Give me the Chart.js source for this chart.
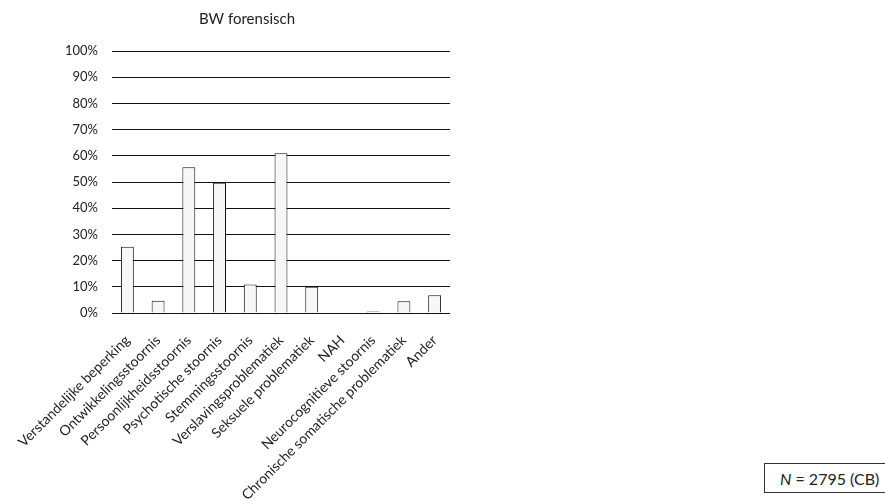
<!DOCTYPE html>
<html>
<head>
<meta charset="utf-8">
<script src="https://cdn.jsdelivr.net/npm/chart.js@4/dist/chart.umd.min.js"></script>
<style>
  body { margin: 0; background: #fff; width: 885px; height: 501px; position: relative; overflow: hidden; }
  #wrap { position: absolute; left: 0; top: 0; width: 494px; height: 501px; }
  #nbox { position: absolute; left: 764px; top: 463px; width: 130px; height: 30px; border: 1px solid #333;
          font-family: Lato, sans-serif; font-size: 16px; color: #222; line-height: 29px; padding-left: 15px; box-sizing: border-box; }
</style>
</head>
<body>
<div id="wrap"><canvas id="chart"></canvas></div>
<div id="nbox"><i>N</i> = 2795 (CB)</div>
<script>
var categories = ['Verstandelijke beperking', 'Ontwikkelingsstoornis', 'Persoonlijkheidsstoornis',
    'Psychotische stoornis', 'Stemmingsstoornis', 'Verslavingsproblematiek', 'Seksuele problematiek',
    'NAH', 'Neurocognitieve stoornis', 'Chronische somatische problematiek', 'Ander'];
var percentages = [25.3, 4.7, 55.6, 49.7, 10.9, 61.0, 10.0, 0, 0.6, 4.5, 6.8];
var titleText = 'BW forensisch';

var ctx = document.getElementById('chart').getContext('2d');

var chart = new Chart(ctx, {
    type: 'bar',
    data: {
        labels: categories,
        datasets: [{
            label: titleText,
            data: percentages,
            backgroundColor: '#f7f7f7',
            borderColor: '#111',
            borderWidth: 1,
            barPercentage: 0.42,
            categoryPercentage: 1
        }]
    },
    options: {
        responsive: true,
        maintainAspectRatio: false,
        animation: false,
        // left/right padding equal so the title centres like the original
        layout: { padding: { top: 0, right: 44, left: 44, bottom: 0 } },
        plugins: {
            legend: { display: false },
            tooltip: { enabled: false },
            title: {
                display: true,
                text: titleText,
                color: '#222',
                font: { family: 'Lato', size: 15, weight: 'normal' },
                padding: { top: 10, bottom: 23 }
            }
        },
        scales: {
            x: {
                grid: { display: false },
                border: { display: false },
                ticks: {
                    color: '#222',
                    font: { family: 'Lato', size: 14 },
                    maxRotation: 45,
                    minRotation: 45,
                    autoSkip: false,
                    padding: 11
                },
                afterFit: function(scale) { scale.height = 188; }
            },
            y: {
                min: 0,
                max: 100,
                grid: { color: '#111', lineWidth: 1, drawTicks: false },
                border: { display: false },
                ticks: {
                    stepSize: 10,
                    color: '#222',
                    padding: 14,
                    font: { family: 'Lato', size: 13 },
                    callback: function(v) { return v + '%'; }
                },
                afterFit: function(scale) { scale.width = 68; }
            }
        }
    }
});
</script>
</body>
</html>
